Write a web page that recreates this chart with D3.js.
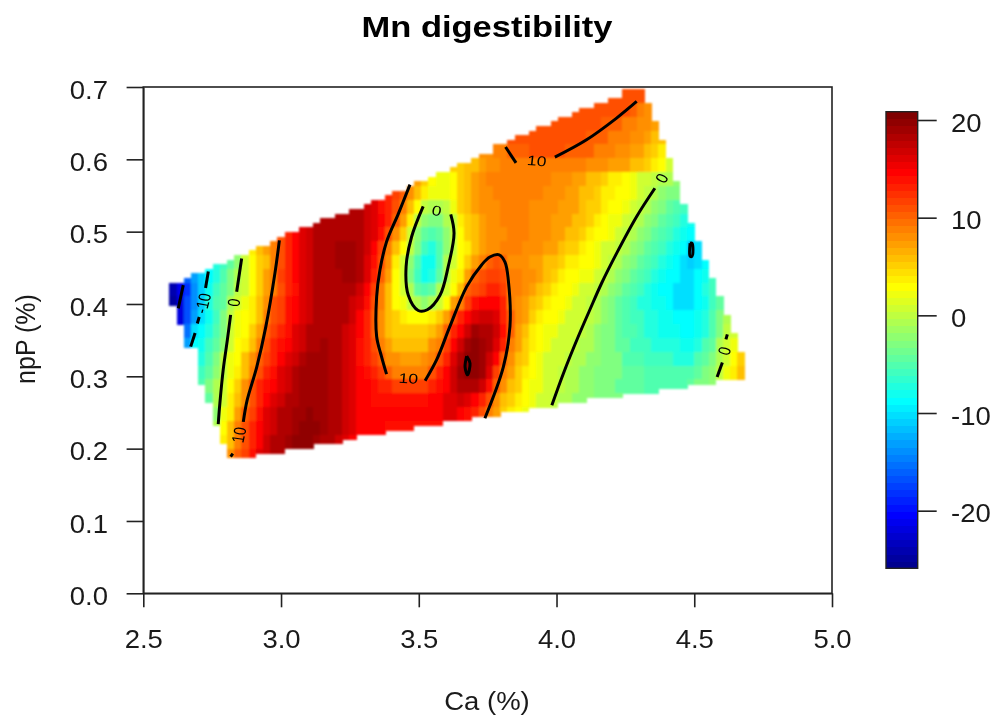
<!DOCTYPE html>
<html lang="en">
<head>
    <meta charset="UTF-8">
    <title>Mn digestibility</title>
    <script src="https://d3js.org/d3.v7.min.js"></script>
    <style>
        html, body { margin: 0; padding: 0; background: #fff; }
        svg { display: block; filter: blur(0.35px); }
        text { font-family: "Liberation Sans", Arial, sans-serif; fill: #1a1a1a; }
    </style>
</head>
<body>
<script>
    // Ticks and labels
    const caTicks = [2.5, 3.0, 3.5, 4.0, 4.5, 5.0];
    const npPTicks = [0, 0.1, 0.2, 0.3, 0.4, 0.5, 0.6, 0.7];
    const legendTicks = [-20, -10, 0, 10, 20];

    // Grid: 80 columns across Ca, 80 fine rows down npP (counted from the top)
    const gridCa0 = 2.595, gridCaStep = 0.0261;
    const gridNpP0 = 0.697, gridNpPStep = 0.00637;

    // first and last+1 fine row with data in each column
    const colFirst = [42,42,41,40,40,39,38,38,37,36, 36,35,34,34,33,32,31,31,30,30,
        29,28,28,27,27,26,26,25,24,24, 23,22,22,21,20,20,19,18,18,17,
        16,16,15,14,14,12,12,11,10,10, 9,8,8,7,6,6,5,4,4,3,
        3,2,2,0,0,0,3,7,11,15, 20,25,29,33,37,41,45,49,53,57];
    const colLast = [47,51,56,56,64,68,73,77,80,80, 80,80,79,79,79,79,78,78,78,78,
        77,77,77,77,76,76,75,75,75,75, 74,74,74,74,73,73,73,73,72,72,
        72,72,71,71,71,71,70,70,70,70, 69,69,69,69,68,68,68,68,67,67,
        67,67,67,66,66,66,66,66,65,65, 65,65,64,64,64,64,63,63,63,63];

    // Mn digestibility read per column, in bands of three fine rows
    const rowStart = [61,56,51,47,43,39,34,30,25,20,15,11,6,2,0,0,1,2,2,3,4,4,5,6,6,7,8];
    const mnRows = [
        [11,11,11,11,11],
        [11,11,11,11,11,11,11,11,10,9,8],
        [11,11,11,11,11,11,11,11,11,10,10,10,9,9,8,8,7],
        [11,11,11, 11,11,11,11,11,11,11,11,10,10, 10,9,9,9,8,8,7,6,6],
        [8,8,9,9,10,10,10, 11,11,11,11,11,10,10,10,10,9, 9,9,8,8,7,7,6,5,4],
        [5, 5,6,6,7,8,8,9,9,9,9, 9,9,9,9,9,9,9,9,8,8, 8,7,7,7,6,6,5,4,3,1],
        [7,5,3,2,2,3, 5,6,7,8,9,9,9,9,9,9, 9,9,9,8,8,8,7,7,6,6, 5,4,4,3,2,1,1,0,-1,-1, -2],
        [13,12,10,8,6,4,2,2,2,3, 5,6,7,8,8,9,9,9,9,9, 9,9,8,8,8,7,7,6,6,5, 4,4,3,3,2,1,0,-1,-2,-3, -3],
        [18,18,17,16,14, 13,11,9,6,3,0,-1,-1,0,2, 5,6,7,8,8,8,9,9,9,9, 8,8,8,8,7,7,7,6,5,5, 4,3,3,2,1,0,-1,-2,-3,-4, -5,-6],
        [18,18,18,18,18,18,18,17,16,15, 13,10,7,4,0,-2,-3,-3,-1,0, 4,5,6,7,8,8,9,9,9,9, 8,8,8,7,7,7,6,6,5,4, 3,2,2,1,0,-1,-2,-3,-4,-5, -6,-7,-8],
        [11,13,15,16,17, 18,18,18,18,18,18,18,17,16,14, 11,8,5,1,-2,-4,-5,-4,-2,0, 3,5,6,7,8,8,8,9,9,9, 8,8,8,7,7,6,6,5,4,3, 3,2,1,0,-1,-2,-3,-4,-5,-6, -7,-8,-9],
        [4,6,7,9,11,13,15,16,17, 18,18,18,19,19,19,18,17,15,12, 9,6,3,0,-3,-6,-7,-5,-2,0, 3,4,6,7,8,8,9,9,9,8, 8,8,7,7,6,5,5,4,3,2, 1,1,0,-1,-2,-3,-4,-5,-6,-7, -8,-9,-11,-10],
        [-7,-6,-4,-2, 1,3,5,6,9,11,13,15,16,17, 18,18,18,19,19,19,18,16,14,11, 8,4,1,-2,-5,-8,-8,-5,-1,1, 3,5,7,9,10,11,10,8,8,8, 7,7,6,6,5,4,4,3,3,2, 1,0,-1,-2,-3,-4,-5,-6,-7,-8, -9,-10,-11,-10,-9],
        [-16,-13,-11,-9,-7,-5,-3,-1, 1,3,5,7,9,12,13,15,16,17, 18,18,18,18,19,19,18,16,13,10, 7,3,1,-3,-6,-8,-7,-4,-1,2, 4,7,10,11,12,12,11,9,9,8, 8,7,6,5,4,3,3,2,2,1, 0,-1,-2,-3,-4,-5,-6,-7,-8,-9, -9,-10,-10,-9,-8,-6],
        [-24,-21,-18,-14,-11,-8,-6,-4,-3,0, 1,3,5,7,9,11,13,14,16,17, 18,18,18,18,18,18,17,15,12,9, 6,3,1,-1,-4,-5,-4,-1,1,3, 6,10,11,12,13,13,12,9,9,8, 7,6,5,4,3,3,2,1,1,0, -1,-2,-3,-4,-5,-6,-7,-8,-9,-9, -10,-10,-10,-9,-7,-6],
        [-25,-22,-17,-14,-11,-7,-5,-4,-1,1, 2,4,6,8,11,12,14,15,16,17, 18,18,18,18,18,17,16,14,11,9, 6,3,2,0,-1,-2,-1,1,3,7, 9,12,14,15,15,15,13,9,8,7, 6,5,4,3,3,2,1,1,0,-1, -2,-3,-4,-5,-6,-7,-7,-8,-8,-9, -10,-10,-10,-9,-8,-6,-4],
        [-22,-17,-13,-10,-8,-6,-3,0,2, 3,4,6,9,11,12,14,15,16,17, 18,18,18,18,18,17,15,13,10,8, 6,5,4,3,3,3,4,5,7,11, 13,15,16,17,17,16,13,10,8,7, 5,4,3,3,2,1,1,1,0,-1, -2,-3,-4,-5,-6,-6,-7,-7,-8,-8, -9,-9,-9,-8,-7,-5,-3,-1],
        [-15,-10,-9,-7,-5,-3,1,2, 3,5,7,10,12,13,14,16,17,18, 18,18,18,18,17,16,15,13,10,8, 6,5,5,5,5,5,6,7,10,13, 15,17,19,18,18,17,14,10,7,6, 4,3,2,2,1,1,1,0,-1,-2, -3,-3,-4,-5,-5,-6,-7,-7,-8,-8, -8,-9,-9,-8,-7,-5,-3,0,1],
        [-13,-9,-8,-6,-4,-2,1,3, 4,6,9,11,13,14,15,16,17,18, 18,19,18,18,17,16,14,13,11,9, 7,6,6,6,6,6,8,9,12,15, 17,19,20,19,18,16,13,9,7,5, 4,3,2,1,1,1,0,-1,-1,-2, -3,-3,-4,-4,-6,-6,-6,-7,-7,-7, -7,-8,-8,-7,-5,-4,-1,1,2],
        [-8,-7,-5,-3,0,2,3, 6,8,10,12,13,15,16,17,18,19, 19,19,18,18,17,16,14,13,12,10, 8,8,7,7,7,8,9,11,13,16, 18,20,20,19,17,15,10,8,6,5, 3,2,1,1,1,0,-1,-1,-2,-2, -3,-3,-3,-5,-5,-5,-6,-6,-6,-6, -7,-7,-7,-5,-4,-3,-1,1,3,5],
        [-6,-4,-2,0,2,4, 6,9,11,13,14,16,17,18,19,19, 19,19,18,18,17,16,15,14,13,12, 10,9,9,9,9,9,11,13,15,17, 19,20,20,19,16,12,9,7,5,4, 3,2,1,1,0,-1,-1,-2,-2,-3, -3,-3,-3,-4,-4,-4,-5,-5,-5,-5, -5,-5,-5,-4,-3,-2,0,2,4,6],
        [-5,-3,-1,1,3,5, 8,11,13,14,15,16,17,18,19,19, 19,19,18,18,17,16,15,15,14,13, 13,12,12,12,12,12,13,14,15,17, 18,18,18,17,14,10,8,6,5,3, 2,2,1,1,0,-1,-1,-2,-2,-3, -3,-3,-4,-4,-4,-4,-5,-5,-5,-5, -5,-5,-4,-3,-3,-2],
        [-4,-1,1,4,6, 8,11,13,15,16,17,18,18,19,19, 19,19,18,18,17,16,15,15,14,14, 14,14,14,14,14,14,15,15,16,16, 17,16,15,13,11,8,6,5,4,3, 2,1,1,0,-1,-1,-2,-2,-2,-3, -3,-3,-3],
        [-2,2,4,7, 10,12,14,16,17,18,18,19,19,20, 19,19,18,18,17,16,15,15,15,15, 15,15,15,15,15,15,15,15,16,16, 15,14,13,11,9,7,5,4,3,2],
        [-1,3,6,9, 11,13,15,16,17,18,18,19,20,20, 20,19,18,18,17,16,15,15,15,15, 14,14,14,14,14,14,14,14],
        [4,6,9, 11,13,15,17,18,18,19,20,20,20, 19,18,18,17,16,15],
        [8,10,12,14,16,17,18,18]
    ];

    // Contour lines as [Ca, npP]
    const contourLines = [
        [[2.645,0.426],[2.627,0.394]],
        [[2.736,0.445],[2.726,0.422]],
        [[2.703,0.382],[2.696,0.373]],
        [[2.688,0.360],[2.672,0.341]],
        [[4.485,0.484],[4.492,0.484],[4.492,0.466],[4.485,0.466],[4.485,0.484]],
        [[2.857,0.463],[2.839,0.417]],
        [[2.817,0.385],[2.805,0.350],[2.790,0.309],[2.778,0.263],[2.772,0.234]],
        [[3.516,0.535],[3.474,0.493],[3.454,0.452],[3.462,0.412],[3.498,0.391],[3.531,0.392],[3.577,0.412],[3.607,0.452],[3.628,0.498],[3.616,0.524]],
        [[4.357,0.560],[4.291,0.521],[4.218,0.470],[4.164,0.429],[4.121,0.392],[4.079,0.355],[4.025,0.304],[3.983,0.260]],
        [[4.620,0.358],[4.615,0.351]],
        [[4.602,0.319],[4.583,0.299]],
        [[2.994,0.488],[2.978,0.443],[2.945,0.369],[2.912,0.313],[2.877,0.267],[2.863,0.237]],
        [[2.825,0.193],[2.817,0.189]],
        [[3.468,0.565],[3.426,0.525],[3.383,0.486],[3.359,0.447],[3.347,0.410],[3.347,0.355],[3.365,0.327],[3.383,0.303]],
        [[3.523,0.294],[3.565,0.323],[3.613,0.369],[3.674,0.424],[3.728,0.454],[3.758,0.465],[3.792,0.468],[3.813,0.458],[3.825,0.433],[3.831,0.369],[3.807,0.313],[3.740,0.242]],
        [[4.291,0.680],[4.218,0.657],[4.109,0.627],[3.994,0.603]],
        [[3.853,0.595],[3.815,0.617]],
        [[3.674,0.328],[3.686,0.318],[3.677,0.302],[3.668,0.313],[3.674,0.328]]
    ];
    const contourLabelText = ["-10", "0", "10", "10", "0", "10", "0", "0"];
    const contourLabelCa = [2.716, 2.829, 2.847, 3.462, 3.565, 3.928, 4.382, 4.609];
    const contourLabelNpP = [0.401, 0.402, 0.219, 0.297, 0.529, 0.598, 0.574, 0.335];
    const contourLabelAngle = [-78, -80, -80, 4, 8, 5, -55, -70];

    const width = 997, height = 718;
    const titleStretch = 1.15;
    const textStretch = 1.1;
    const labelStretch = 1.25;

    const svg = d3.select("body").append("svg")
        .attr("width", width)
        .attr("height", height);

    const x = d3.scaleLinear().domain([2.5, 5]).range([143.3, 832]);
    const y = d3.scaleLinear().domain([0, 0.7]).range([593.3, 87]);

    // jet palette, 64 steps
    const jet = d3.scaleLinear()
        .domain([0, 7, 23, 39, 55, 63])
        .range(["#00008f", "#0000ff", "#00ffff", "#ffff00", "#ff0000", "#800000"]);
    const palette = d3.range(64).map(d => d3.rgb(jet(d)).formatHex());
    const zMin = -25.9, zMax = 20.85;
    const color = d3.scaleQuantize().domain([zMin, zMax]).range(palette);

    // soften the band edges a little
    svg.append("filter")
        .attr("id", "soft")
        .attr("x", "-5%").attr("y", "-5%").attr("width", "110%").attr("height", "110%")
        .append("feGaussianBlur")
        .attr("stdDeviation", 0.9);

    // Heat map cells
    const cells = [];
    mnRows.forEach((row, r) => {
        row.forEach((value, j) => {
            const col = rowStart[r] + j;
            const first = Math.max(3 * r, colFirst[col]);
            const last = Math.min(3 * r + 3, colLast[col]);
            if (last > first) cells.push({col, first, last, value});
        });
    });

    svg.append("g")
        .attr("shape-rendering", "crispEdges")
        .attr("filter", "url(#soft)")
        .selectAll("rect")
        .data(cells)
        .join("rect")
        .attr("x", d => x(gridCa0 + d.col * gridCaStep))
        .attr("width", x(gridCa0 + gridCaStep) - x(gridCa0) + 0.5)
        .attr("y", d => y(gridNpP0 - d.first * gridNpPStep))
        .attr("height", d => y(gridNpP0 - d.last * gridNpPStep) - y(gridNpP0 - d.first * gridNpPStep) + 0.5)
        .attr("fill", d => color(d.value));

    // Contours
    const line = d3.line().x(d => x(d[0])).y(d => y(d[1])).curve(d3.curveCatmullRom);
    svg.append("g")
        .selectAll("path")
        .data(contourLines)
        .join("path")
        .attr("d", line)
        .attr("fill", "none")
        .attr("stroke", "#000")
        .attr("stroke-width", 3);

    svg.append("g")
        .selectAll("text")
        .data(contourLabelText)
        .join("text")
        .attr("transform", (d, i) => `translate(${x(contourLabelCa[i])},${y(contourLabelNpP[i])}) scale(${labelStretch},1) rotate(${contourLabelAngle[i]})`)
        .attr("text-anchor", "middle")
        .attr("dy", "0.35em")
        .attr("font-size", 14)
        .style("fill", "#000")
        .text(d => d);

    // Plot box
    svg.append("rect")
        .attr("x", x(2.5))
        .attr("y", y(0.7))
        .attr("width", x(5) - x(2.5))
        .attr("height", y(0) - y(0.7))
        .attr("fill", "none")
        .attr("stroke", "#222")
        .attr("stroke-width", 1.6);

    function styleAxis(g) {
        g.selectAll("path, line").attr("stroke", "#222").attr("stroke-width", 1.6);
        g.selectAll("text").attr("font-size", 25).attr("fill", null);
    }

    // X axis
    const xAxis = svg.append("g")
        .attr("transform", `translate(0,${y(0)})`)
        .call(d3.axisBottom(x).tickValues(caTicks).tickFormat(d3.format(".1f")).tickSize(14).tickSizeOuter(0));
    styleAxis(xAxis);
    xAxis.selectAll("text")
        .attr("y", 0).attr("dy", 0)
        .attr("transform", `translate(0,54.7) scale(${textStretch},1)`);

    // Y axis
    const yAxis = svg.append("g")
        .attr("transform", `translate(${x(2.5)},0)`)
        .call(d3.axisLeft(y).tickValues(npPTicks).tickFormat(d3.format(".1f")).tickSize(16.7).tickSizeOuter(0));
    styleAxis(yAxis);
    yAxis.selectAll("text")
        .attr("x", 0)
        .attr("transform", `translate(-35.3,3.3) scale(${textStretch},1)`);

    // Titles
    svg.append("text")
        .attr("transform", `translate(487,36.7) scale(${titleStretch},1)`)
        .attr("text-anchor", "middle")
        .attr("font-size", 30)
        .attr("font-weight", "bold")
        .style("fill", "#000")
        .text("Mn digestibility");

    svg.append("text")
        .attr("transform", `translate(487,710) scale(${textStretch},1)`)
        .attr("text-anchor", "middle")
        .attr("font-size", 25)
        .text("Ca (%)");

    svg.append("text")
        .attr("transform", `translate(35,339) scale(${textStretch},1) rotate(-90)`)
        .attr("text-anchor", "middle")
        .attr("font-size", 25)
        .text("npP (%)");

    // Colour bar
    const z = d3.scaleLinear().domain([zMin, zMax]).range([568.3, 111.7]);
    const barLeft = 886, barRight = 917.7;
    const bandStep = (zMax - zMin) / palette.length;

    svg.append("g")
        .attr("shape-rendering", "crispEdges")
        .selectAll("rect")
        .data(palette)
        .join("rect")
        .attr("x", barLeft)
        .attr("width", barRight - barLeft)
        .attr("y", (d, i) => z(zMin + (i + 1) * bandStep))
        .attr("height", z(zMin) - z(zMin + bandStep) + 0.5)
        .attr("fill", d => d);

    svg.append("rect")
        .attr("x", barLeft)
        .attr("y", z(zMax))
        .attr("width", barRight - barLeft)
        .attr("height", z(zMin) - z(zMax))
        .attr("fill", "none")
        .attr("stroke", "#222")
        .attr("stroke-width", 1.4);

    const zAxis = svg.append("g")
        .attr("transform", `translate(${barRight},0)`)
        .call(d3.axisRight(z).tickValues(legendTicks).tickFormat(d => String(d)).tickSize(19).tickSizeOuter(0));
    styleAxis(zAxis);
    zAxis.select(".domain").remove();
    zAxis.selectAll("text")
        .attr("x", 0).attr("dy", 0)
        .attr("transform", `translate(33.3,11) scale(${textStretch},1)`);
</script>
</body>
</html>
